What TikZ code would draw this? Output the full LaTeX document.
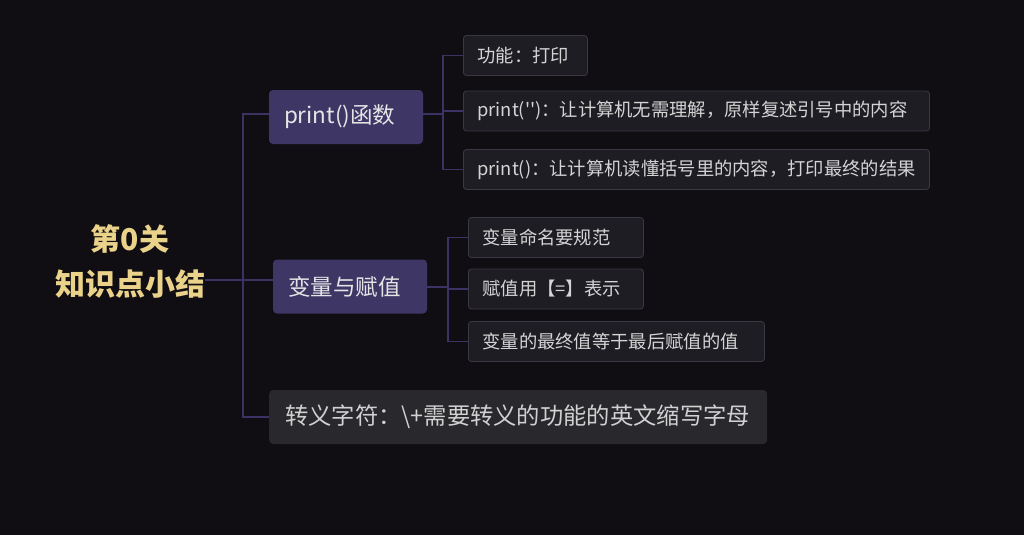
\documentclass[tikz,border=0pt]{standalone}
\usepackage{fontspec}
\setmainfont{Noto Sans CJK SC}
\newfontfamily\plainfont{Noto Sans CJK SC}
\definecolor{bgcol}{HTML}{100E12}
\definecolor{linkcol}{HTML}{3B3364}
\definecolor{topiccol}{HTML}{3E3766}
\definecolor{leafcol}{HTML}{1F1D24}
\definecolor{leafline}{HTML}{3A3842}
\definecolor{esccol}{HTML}{29282D}
\definecolor{goldcol}{HTML}{EBD28A}
\tikzstyle{link}=[draw=linkcol, line width=1.3pt]
\tikzstyle{root}=[align=center, inner sep=0pt, text=goldcol,
font=\fontsize{30}{45}\selectfont\bfseries]
\tikzstyle{topic}=[rounded corners=4pt, fill=topiccol, text=white!90!black,
inner xsep=15pt, inner ysep=0pt, minimum height=54pt, text width=124pt,
align=left, font=\fontsize{22.5}{27}\selectfont]
\tikzstyle{esctopic}=[topic, fill=esccol, text=black!18, anchor=west,
inner xsep=16pt, font=\fontsize{23.3}{28}\selectfont]
\tikzstyle{leaf}=[rounded corners=3pt, fill=leafcol, draw=leafline,
line width=0.8pt, text=black!17, inner xsep=14pt, inner ysep=0pt,
minimum height=40pt, align=left, anchor=west,
font=\fontsize{18.3}{22}\selectfont]

\begin{document}
\begin{tikzpicture}[x=1pt,y=-1pt]
  \useasboundingbox (0,0) rectangle (1024,535);
  \fill[bgcol] (0,0) rectangle (1024,535);
  % root and topics
  \node[root] (root) at (130,261) {第0关\\知识点小结};
  \node[topic] (print) at (346,117) {print()函数};
  \node[topic] (var) at (350,286.5) {变量与赋值};
  \node[esctopic, text width=466pt] (esc) at (269,417)
    {转义字符：\textbackslash+需要转义的功能的英文缩写字母};
  % leaves
  \node[leaf, text width=96pt] (f1) at (463,55.5) {功能：打印};
  \node[leaf, text width=438pt] (f2) at (463,111)
    {print({\plainfont''})：让计算机无需理解，原样复述引号中的内容};
  \node[leaf, text width=438pt] (f3) at (463,169.5)
    {print()：让计算机读懂括号里的内容，打印最终的结果};
  \node[leaf, text width=147pt] (v1) at (468,237.5) {变量命名要规范};
  \node[leaf, text width=147pt] (v2) at (468,289) {赋值用【=】表示};
  \node[leaf, text width=268pt] (v3) at (468,341.5) {变量的最终值等于最后赋值的值};
  % connectors
  \coordinate (hub) at (243,280);
  \coordinate (pj) at (443,114);
  \coordinate (vj) at (448,287);
  \draw[link] ([yshift=3pt]print.west) -| (hub) |- (esc.west);
  \draw[link] (root.east |- hub) -- ([yshift=6.5pt]var.west);
  \draw[link] ([yshift=3pt]print.east) -- (pj);
  \draw[link] (f1.west) -| (pj |- f3.west) -- (f3.west);
  \draw[link] (pj |- f2.west) -- (f2.west);
  \draw[link] (var.east |- vj) -- (vj);
  \draw[link] (v1.west) -| (vj |- v3.west) -- (v3.west);
  \draw[link] (vj |- v2.west) -- (v2.west);
\end{tikzpicture}
\end{document}
